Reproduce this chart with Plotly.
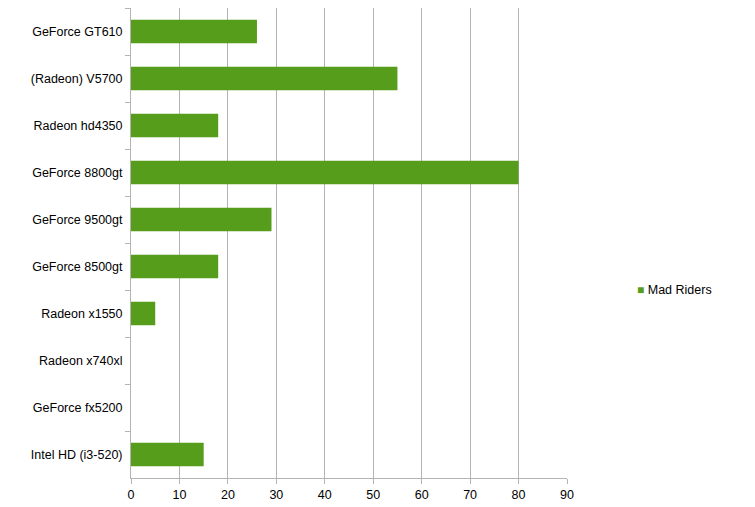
import plotly.graph_objects as go

gpus = ["GeForce GT610", "(Radeon) V5700", "Radeon hd4350", "GeForce 8800gt",
        "GeForce 9500gt", "GeForce 8500gt", "Radeon x1550", "Radeon x740xl",
        "GeForce fx5200", "Intel HD (i3-520)"]
mad_riders = [26, 55, 18, 80, 29, 18, 5, 0, 0, 15]
series_name = "Mad Riders"

grey = "#b3b3b3"
green = "#579d1c"

fig = go.Figure()
fig.add_trace(go.Bar(
    y=gpus, x=mad_riders, orientation="h", name=series_name,
    marker=dict(color=green, line=dict(width=0)),
    width=0.5,
))

# legend drawn as text so the swatch sits close to the label like the original
fig.add_annotation(
    xref="paper", yref="paper", x=1.155, y=0.4, xanchor="left", yanchor="middle",
    showarrow=False,
    text=f"<span style='color:{green};font-size:12px'>■</span> {series_name}",
    font=dict(size=12.5),
)

# page body has an 8px margin, so the figure is drawn 8px smaller
fig.update_layout(
    width=747, height=499,
    margin=dict(l=123, r=188, t=0, b=29),
    plot_bgcolor="white", paper_bgcolor="white",
    font=dict(family="Liberation Sans, Arial, sans-serif", size=12.5, color="black"),
    showlegend=False,
    xaxis=dict(range=[0, 90], dtick=10, showgrid=True, gridcolor=grey, gridwidth=1,
               showline=True, linecolor=grey, ticks="outside", ticklen=5,
               tickcolor=grey, zeroline=False),
    yaxis=dict(autorange="reversed", showline=True, linecolor=grey, ticks="outside",
               ticklen=5, tickcolor=grey, tickson="boundaries", showgrid=False,
               ticklabelstandoff=5),
)

fig.write_html("out.html")
